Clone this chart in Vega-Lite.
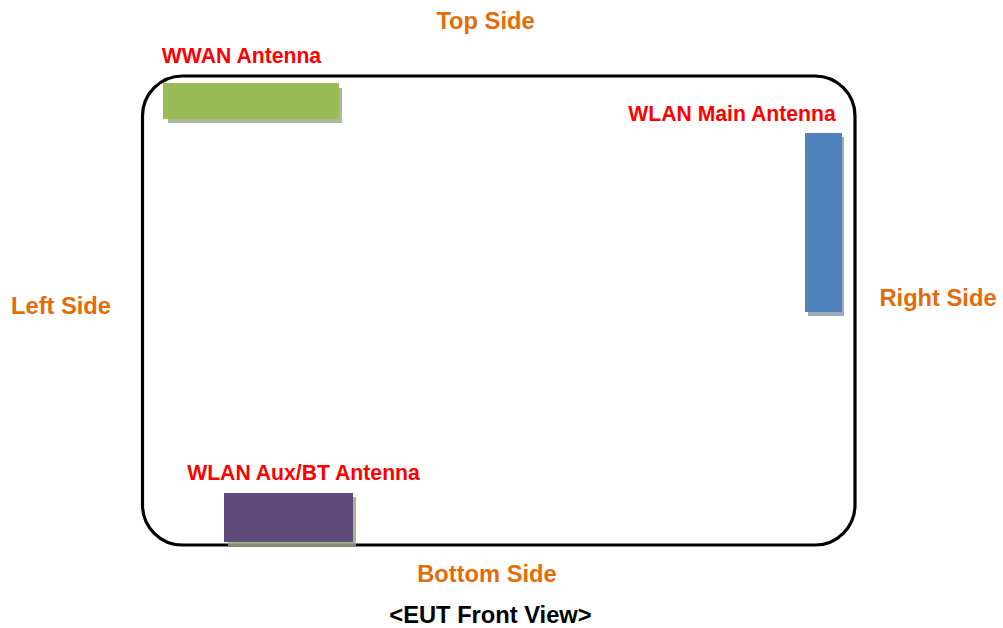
{
  "$schema": "https://vega.github.io/schema/vega-lite/v6.json",
  "width": 1003,
  "height": 628,
  "autosize": {"type": "none"},
  "padding": 0,
  "background": "white",
  "config": {"view": {"stroke": null}, "axis": {"domain": false, "grid": false, "ticks": false, "labels": false, "title": null}},
  "datasets": {
    "frame": [{"x": 142.5, "x2": 855, "y": 76, "y2": 545}],
    "shadows": [
      {"name": "WWAN", "x": 168, "x2": 342, "y": 88, "y2": 123, "color": "#9FAA8E"},
      {"name": "WLAN Main", "x": 808, "x2": 844, "y": 137, "y2": 316, "color": "#8E9BAE"},
      {"name": "WLAN Aux", "x": 228, "x2": 356, "y": 497, "y2": 546, "color": "#9CA77E"}
    ],
    "antennas": [
      {"name": "WWAN", "x": 163, "x2": 339, "y": 83, "y2": 119, "color": "#9BBB59"},
      {"name": "WLAN Main", "x": 805, "x2": 842, "y": 133, "y2": 312, "color": "#4F81BD"},
      {"name": "WLAN Aux", "x": 224, "x2": 353, "y": 493, "y2": 542, "color": "#604A7B"}
    ],
    "labels": [
      {"label": "Top Side", "x": 485.5, "y": 21.5, "color": "#E36C09", "size": 23.7},
      {"label": "Left Side", "x": 61, "y": 306.5, "color": "#E36C09", "size": 23.7},
      {"label": "Right Side", "x": 938, "y": 298.5, "color": "#E36C09", "size": 23.7},
      {"label": "Bottom Side", "x": 487, "y": 574.5, "color": "#E36C09", "size": 23.7},
      {"label": "WWAN Antenna", "x": 241.5, "y": 56.5, "color": "#FF0000", "size": 21.2},
      {"label": "WLAN Main Antenna", "x": 732, "y": 114.5, "color": "#FF0000", "size": 21.2},
      {"label": "WLAN Aux/BT Antenna", "x": 303.5, "y": 473.5, "color": "#FF0000", "size": 21.2},
      {"label": "<EUT Front View>", "x": 490.5, "y": 615.5, "color": "#000000", "size": 23.7}
    ]
  },
  "layer": [
    {
      "data": {"name": "frame"},
      "mark": {"type": "rect", "filled": false, "stroke": "#000000", "strokeWidth": 3.2, "cornerRadius": 40},
      "encoding": {
        "x": {"field": "x", "type": "quantitative", "scale": {"domain": [0, 1003]}, "axis": null},
        "x2": {"field": "x2"},
        "y": {"field": "y", "type": "quantitative", "scale": {"domain": [0, 628], "reverse": true}, "axis": null},
        "y2": {"field": "y2"}
      }
    },
    {
      "data": {"name": "shadows"},
      "mark": {"type": "rect", "opacity": 0.85},
      "encoding": {
        "x": {"field": "x", "type": "quantitative", "scale": {"domain": [0, 1003]}, "axis": null},
        "x2": {"field": "x2"},
        "y": {"field": "y", "type": "quantitative", "scale": {"domain": [0, 628], "reverse": true}, "axis": null},
        "y2": {"field": "y2"},
        "color": {"field": "color", "type": "nominal", "scale": null}
      }
    },
    {
      "data": {"name": "antennas"},
      "mark": {"type": "rect", "opacity": 1},
      "encoding": {
        "x": {"field": "x", "type": "quantitative", "scale": {"domain": [0, 1003]}, "axis": null},
        "x2": {"field": "x2"},
        "y": {"field": "y", "type": "quantitative", "scale": {"domain": [0, 628], "reverse": true}, "axis": null},
        "y2": {"field": "y2"},
        "color": {"field": "color", "type": "nominal", "scale": null}
      }
    },
    {
      "data": {"name": "labels"},
      "mark": {"type": "text", "font": "Liberation Sans", "fontWeight": "bold", "align": "center", "baseline": "middle"},
      "encoding": {
        "x": {"field": "x", "type": "quantitative", "scale": {"domain": [0, 1003]}, "axis": null},
        "y": {"field": "y", "type": "quantitative", "scale": {"domain": [0, 628], "reverse": true}, "axis": null},
        "text": {"field": "label", "type": "nominal"},
        "color": {"field": "color", "type": "nominal", "scale": null},
        "size": {"field": "size", "type": "quantitative", "scale": null}
      }
    }
  ]
}
